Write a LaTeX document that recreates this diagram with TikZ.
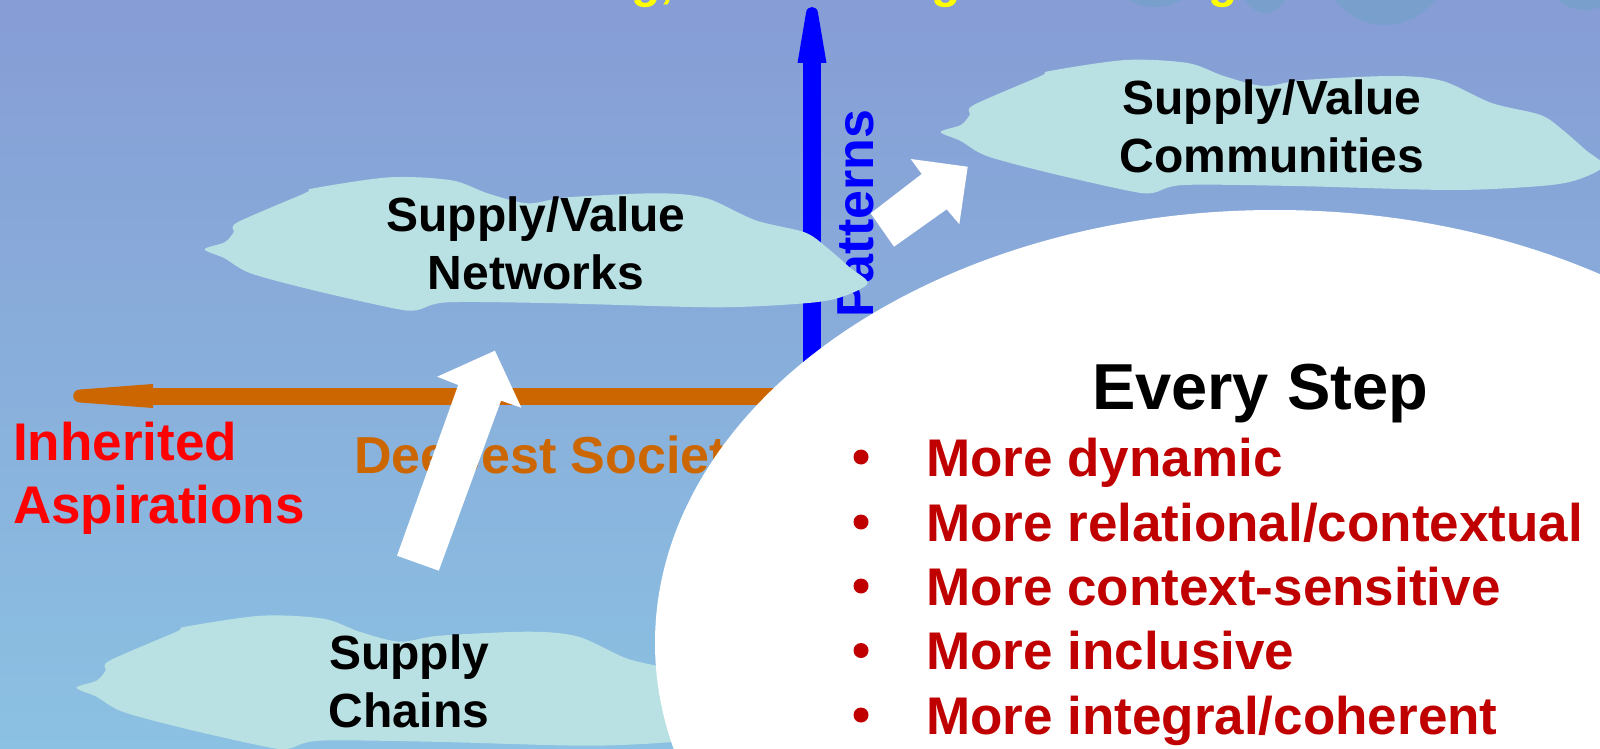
\documentclass[tikz,border=0pt]{standalone}
\usepackage{fontspec}
\setmainfont{Liberation Sans}
\definecolor{bgtop}{RGB}{134,157,213}
\definecolor{bgbot}{RGB}{139,193,226}
\definecolor{cloudc}{RGB}{185,224,227}
\definecolor{blobc}{RGB}{121,160,205}
\definecolor{orangec}{RGB}{204,102,0}
\definecolor{darkredc}{RGB}{192,0,0}
\definecolor{yellowc}{RGB}{255,255,0}
\definecolor{bluec}{RGB}{0,0,255}
\definecolor{redc}{RGB}{255,0,0}
\tikzset{
  cloudshape/.pic={\fill[cloudc] plot[smooth cycle, tension=0.5] coordinates {
    (0,0) (20,-7) (29,-17) (33,-27) (100,-56) (109,-61) (185,-72) (247,-69)
    (283,-56) (323,-46) (363,-52) (453,-56) (502,-51) (551,-29) (600,-17)
    (622,-2) (645,18) (663,34) (636,48) (600,54) (511,58) (354,54) (243,53)
    (212,61) (189,59) (109,41) (46,24) (20,9)};},
  cloudtext/.style={font=\fontsize{48pt}{58pt}\selectfont\bfseries, align=center, inner sep=0pt, text=black},
  bigred/.style={font=\fontsize{53pt}{63pt}\selectfont\bfseries, text=redc, anchor=base west, inner sep=0pt},
  bullettext/.style={font=\fontsize{53pt}{64pt}\selectfont\bfseries, text=darkredc, anchor=base west, inner sep=0pt},
  bulletdot/.style={circle, fill=darkredc, minimum size=15pt, inner sep=0pt},
  ytext/.style={font=\fontsize{48pt}{50pt}\selectfont\bfseries, text=yellowc, anchor=base west, inner sep=0pt},
  blockarrow/.style={fill=white},
}
\begin{document}
\begin{tikzpicture}[x=1pt,y=-1pt]
\useasboundingbox (0,0) rectangle (1600,749);
\clip (0,0) rectangle (1600,749);
\shade[top color=bgtop, bottom color=bgbot] (0,0) rectangle (1600,749);
% dark blobs at the top right
\fill[blobc] (1155,-40) ellipse [x radius=50pt, y radius=47pt];
\fill[blobc] (1265,-30) ellipse [x radius=28pt, y radius=43pt];
\fill[blobc] (1385,-60) ellipse [x radius=72pt, y radius=85pt];
\fill[blobc] (1585,-40) ellipse [x radius=45pt, y radius=50pt];
% cut-off yellow title
\node[ytext] (t1) at (631,-2) {g,};
\node[ytext] (t2) at (931,-2) {g};
\node[ytext] (t3) at (1208,-2) {g};
% blue vertical arrow
\coordinate (patTop) at (812,7);
\coordinate (patBot) at (812,560);
\draw[bluec, line width=18pt] (patBot) -- ([yshift=-54pt]patTop);
\fill[bluec] (797.5,63) -- (806,13) .. controls (806.5,5) and (817.5,5) .. (818,13) -- (826.5,63) -- cycle;
\node[rotate=90, anchor=base west, text=bluec, font=\fontsize{52pt}{60pt}\selectfont\bfseries, inner sep=0pt] (pat) at (873,318) {Patterns};
% orange horizontal arrow
\coordinate (inhTip) at (74,396);
\coordinate (socEnd) at (1000,396);
\draw[orangec, line width=17pt] (socEnd) -- ([xshift=76pt]inhTip);
\fill[orangec] (153,384) -- (80,389.5) .. controls (71,390) and (71,402) .. (80,402.5) -- (153,408) -- cycle;
\node[bigred] (inh) at (13,460) {Inherited};
\node[bigred] (asp) at (13,523) {Aspirations};
\node[font=\fontsize{52pt}{60pt}\selectfont\bfseries, text=orangec, anchor=base west, inner sep=0pt] (soc) at (354,473) {Deepest Society};
% clouds
\pic at (204.6,249.3) {cloudshape};
\pic at (940.7,132) {cloudshape};
\pic at (76.5,687.7) {cloudshape};
\node[cloudtext] (net) at (536,243) {Supply/Value\\Networks};
\node[cloudtext] (comm) at (1272,126) {Supply/Value\\Communities};
\node[cloudtext] (chain) at (409,681) {Supply\\Chains};
% white block arrows
\fill[blockarrow] (494.9,350.7) -- (521.4,407.7) -- (501,400.7) -- (438.8,570.7) -- (397,555.7) -- (458.2,385) -- (437.2,376.7) -- cycle;
\fill[blockarrow] (967.7,166.7) -- (910.7,159) -- (921.7,174) -- (870.7,213.3) -- (894,246.7) -- (946.7,209.3) -- (959.3,224.3) -- cycle;
% white bubble
\fill[white] (1275,643) ellipse [x radius=620pt, y radius=433pt];
\node[font=\fontsize{65pt}{70pt}\selectfont\bfseries, anchor=base, inner sep=0pt] (step) at (1260,409) {Every Step};
\node[bulletdot] (b1) at (861,457) {};
\node[bulletdot] (b2) at (861,522) {};
\node[bulletdot] (b3) at (861,586) {};
\node[bulletdot] (b4) at (861,650.5) {};
\node[bulletdot] (b5) at (861,715) {};
\node[bullettext] (i1) at (926,476) {More dynamic};
\node[bullettext] (i2) at (926,541) {More relational/contextual};
\node[bullettext] (i3) at (926,605) {More context-sensitive};
\node[bullettext] (i4) at (926,669.5) {More inclusive};
\node[bullettext] (i5) at (926,734) {More integral/coherent};
\end{tikzpicture}
\end{document}
